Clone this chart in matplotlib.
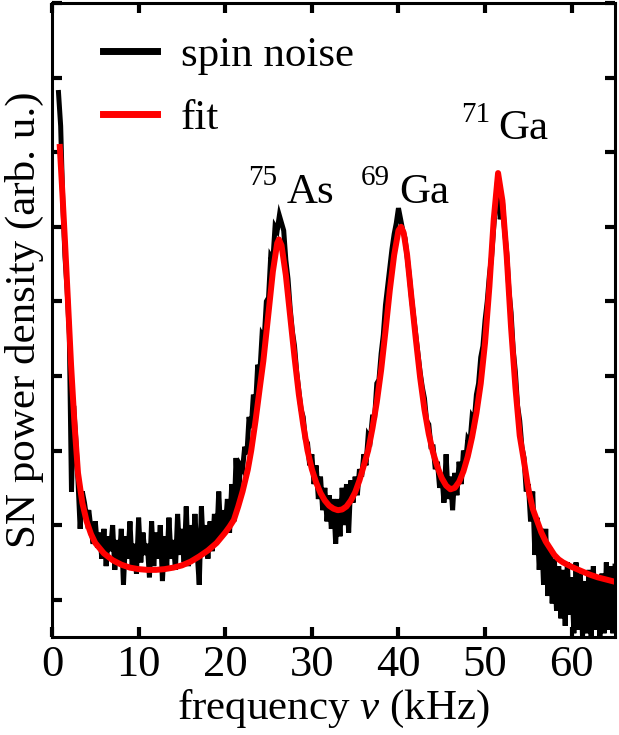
import numpy as np
import matplotlib
matplotlib.use("Agg")
from matplotlib import pyplot as plt

plt.rcParams['font.family'] = ['Liberation Serif', 'DejaVu Serif']
plt.rcParams['mathtext.fontset'] = 'custom'
plt.rcParams['mathtext.rm'] = 'Liberation Serif'
plt.rcParams['mathtext.it'] = 'Liberation Serif:italic'

# spin noise spectrum, sampled every 0.25 kHz starting at 0.75 kHz
noise_start = 0.75
noise_step = 0.25
noise_values = [
    7.80,
    7.35, 6.30, 5.60, 5.15,
    4.55, 2.45, 3.60, 3.15,
    2.60, 1.95, 2.45, 2.30,
    2.10, 2.20, 1.95, 1.75,
    2.05, 1.70, 1.90, 1.55,
    1.95, 1.45, 1.85, 1.65,
    2.00, 1.40, 1.80, 1.50,
    1.95, 1.20, 1.85, 1.55,
    2.05, 1.45, 1.75, 1.35,
    2.10, 1.50, 1.90, 1.60,
    1.75, 1.30, 2.05, 1.45,
    1.90, 1.55, 2.00, 1.25,
    1.85, 1.45, 2.10, 1.55,
    1.80, 1.40, 2.15, 1.60,
    1.95, 1.50, 2.25, 1.45,
    2.00, 1.55, 2.15, 1.65,
    1.20, 2.25, 1.60, 2.00,
    1.55, 2.05, 1.65, 2.15,
    1.75, 2.45, 1.85, 2.20,
    1.95, 2.35, 1.90, 2.55,
    2.05, 2.90, 2.30, 2.80,
    2.75, 3.05, 2.95, 3.45,
    3.30, 3.75, 3.60, 4.15,
    4.05, 4.55, 4.50, 5.00,
    5.05, 5.60, 5.55, 6.00,
    5.95, 6.15, 6.05, 5.95,
    5.55, 5.30, 4.90, 4.60,
    4.40, 4.05, 3.80, 3.55,
    3.45, 3.15, 3.10, 2.80,
    2.95, 2.55, 2.80, 2.35,
    2.65, 2.20, 2.50, 2.05,
    2.40, 1.95, 2.35, 1.75,
    2.35, 1.85, 2.50, 2.00,
    2.55, 1.90, 2.60, 2.30,
    2.65, 2.40, 2.75, 2.65,
    2.95, 2.80, 3.20, 3.15,
    3.45, 3.45, 3.90, 3.95,
    4.30, 4.55, 4.95, 5.20,
    5.45, 5.70, 5.90, 6.05,
    6.25, 6.10, 5.95, 5.85,
    5.60, 5.35, 5.05, 4.80,
    4.55, 4.30, 4.05, 3.85,
    3.70, 3.40, 3.35, 3.05,
    3.05, 2.75, 2.85, 2.50,
    2.70, 2.30, 2.95, 2.35,
    2.65, 2.20, 2.70, 2.40,
    2.85, 2.55, 3.00, 2.85,
    3.15, 3.10, 3.45, 3.40,
    3.75, 3.90, 4.25, 4.40,
    4.75, 5.00, 5.35, 5.60,
    6.00, 6.35, 6.70, 6.10,
    6.35, 5.95, 5.65, 5.15,
    4.85, 4.35, 4.05, 3.60,
    3.40, 3.05, 2.90, 2.45,
    2.55, 2.05, 2.45, 1.60,
    2.10, 1.40, 1.95, 1.20,
    1.95, 1.05, 1.70, 0.95,
    1.55, 0.85, 1.45, 0.75,
    1.40, 0.65, 1.50, 0.80,
    1.30, 0.55, 1.50, 0.60,
    1.35, 0.50, 1.25, 0.55,
    1.40, 0.50, 1.45, 0.60,
    1.30, 0.50, 1.35, 0.55,
    1.50, 0.60, 1.45, 0.55,
    1.45,
]
noise_freq = noise_start + noise_step * np.arange(len(noise_values))

# fit curve
fit_freq = [0.9, 1.2, 1.5, 1.8, 2.2, 2.6, 3.0, 3.5, 4.0, 4.5, 5.0, 6.0, 7.0, 8.0,
            9.0, 10, 11, 12, 13, 14, 15, 16, 17, 18, 19, 20, 20.5, 21, 21.5, 22,
            22.6, 23, 23.5, 24, 24.4, 25, 25.5, 26, 26.2, 26.5, 27, 27.5, 28,
            28.5, 29, 29.5, 30, 30.5, 31, 31.5, 32, 32.5, 33, 33.5, 34, 34.5,
            35, 35.5, 36, 36.5, 37, 37.5, 38, 38.5, 39, 39.5, 40, 40.3, 40.6,
            41, 41.5, 42, 42.5, 43, 43.5, 44, 44.5, 45, 45.5, 46, 46.5, 47,
            47.5, 48, 48.5, 49, 49.5, 50, 50.5, 51, 51.5, 52, 52.5, 53, 53.5,
            54, 54.5, 55, 55.5, 56, 56.5, 57, 58, 58.5, 59, 60, 61, 62, 63, 64, 65]
fit_values = [7.07, 6.45, 5.80, 5.10, 4.15, 3.35, 2.70, 2.30, 2.05, 1.88, 1.76,
              1.62, 1.53, 1.47, 1.43, 1.41, 1.40, 1.40, 1.41, 1.43, 1.46, 1.51,
              1.58, 1.66, 1.76, 1.90, 1.98, 2.07, 2.25, 2.45, 2.74, 3.00, 3.40,
              3.85, 4.20, 4.85, 5.40, 5.78, 5.83, 5.75, 5.35, 4.80, 4.25, 3.75,
              3.35, 3.00, 2.75, 2.57, 2.43, 2.33, 2.26, 2.22, 2.20, 2.21, 2.25,
              2.33, 2.44, 2.60, 2.80, 3.00, 3.30, 3.65, 4.08, 4.60, 5.15, 5.62,
              5.95, 6.00, 5.92, 5.62, 5.05, 4.50, 3.98, 3.55, 3.22, 2.97, 2.78,
              2.63, 2.53, 2.48, 2.50, 2.58, 2.72, 2.92, 3.18, 3.50, 3.90, 4.45,
              5.20, 6.10, 6.72, 6.35, 5.60, 4.65, 3.85, 3.20, 2.85, 2.48, 2.22,
              2.06, 1.90, 1.78, 1.60, 1.54, 1.50, 1.44, 1.39, 1.34, 1.30, 1.27, 1.24]

# isotope labels: (mass number, element, x, y of superscript, x, y of symbol)
peak_labels = [
    ('75', 'As', 22.6, 6.56, 27.1, 6.32),
    ('69', 'Ga', 35.7, 6.56, 40.1, 6.32),
    ('71', 'Ga', 47.2, 7.41, 51.5, 7.17),
]

fig = plt.figure(figsize=(6.19, 7.35), dpi=100)
ax = fig.add_axes([52 / 619, 1 - 637 / 735, (615 - 52) / 619, (637 - 3) / 735])

ax.plot(noise_freq, noise_values, color='black', lw=3.6, label='spin noise',
        solid_joinstyle='miter')
ax.plot(fit_freq, fit_values, color='#ff0000', lw=4.3, label='fit')

for mass, elem, xs, ys, xe, ye in peak_labels:
    ax.text(xs, ys, mass, fontsize=21, va='baseline', ha='left')
    ax.text(xe, ye, elem, fontsize=31, va='baseline', ha='left')

ax.set_xlim(0, 65)
ax.set_ylim(0.5, 9.0)
ax.set_xticks([0, 10, 20, 30, 40, 50, 60])
ax.set_yticks(range(1, 10))
ax.set_yticklabels([])
ax.tick_params(direction='in', length=7.5, width=3, top=True, right=True,
               labelsize=32, pad=6)
ax.tick_params(axis='y', labelleft=False)
for sp in ax.spines.values():
    sp.set_linewidth(2.2)

ax.set_xlabel(r'frequency $\nu$ (kHz)', fontsize=31, labelpad=2)
ax.set_ylabel('SN power density (arb. u.)', fontsize=31, labelpad=6)

leg = ax.legend(loc='upper left', bbox_to_anchor=(0.06, 0.975), frameon=False,
                fontsize=31, handlelength=1.25, handletextpad=0.55,
                labelspacing=0.55, borderaxespad=0)
for ln in leg.get_lines():
    ln.set_linewidth(5)

fig.savefig('out.png', dpi=100)
